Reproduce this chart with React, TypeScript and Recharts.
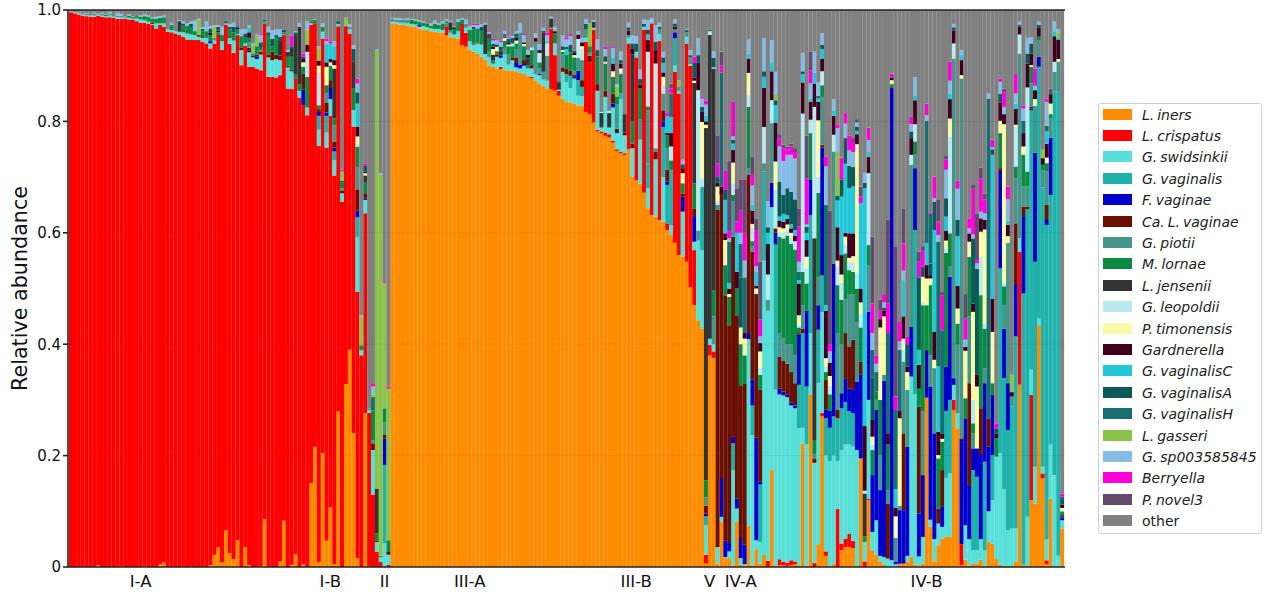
import React from 'react';
import { BarChart, Bar, XAxis, YAxis, ReferenceLine } from 'recharts';

// Each row lists, per sample, the cumulative top (percent) of every taxon present, bottom to top.
// a iners, b crispatus, c swidsinkii, d vaginalis, e F.vaginae, f Ca.L.vaginae, g piotii, h lornae,
// i jensenii, j leopoldii, k timonensis, l Gardnerella, m vaginalisC, n vaginalisA, o vaginalisH,
// p gasseri, q sp003585845, r Berryella, s novel3; the remainder is "other".
type Row = Record<string, number>;

const keys = ['a','b','c','d','e','f','g','h','i','j','k','l','m','n','o','p','q','r','s','other'];
const names = ['L. iners','L. crispatus','G. swidsinkii','G. vaginalis','F. vaginae','Ca. L. vaginae','G. piotii','M. lornae','L. jensenii','G. leopoldii','P. timonensis','Gardnerella','G. vaginalisC','G. vaginalisA','G. vaginalisH','L. gasseri','G. sp003585845','Berryella','P. novel3','other'];
const colors = ['#ff8c00','#ff0000','#58e0d8','#20b2aa','#0000cd','#6b1000','#45958a','#0a8a42','#333333','#b8eaf0','#f8fba8','#3f0020','#22c8d8','#0a5a5a','#176d70','#8bc34a','#85bce5','#ff00dd','#634a6e','#808080'];
const groupLabels = ['I-A','I-B','II','III-A','III-B','V','IV-A','IV-B'];
const groupTicks = [18,67,81,103,146,165,173,221];
const yTicks = [0,0.2,0.4,0.6,0.8,1];

const barsIA: Row[] = [
{b:99.6,c:99.7},{b:99.4,c:99.6},{b:99.2,c:99.4,g:99.5},{b:99,c:99.2,g:99.5},{b:98.9,c:99.1,g:99.3,q:99.4},{b:98.8,c:99,g:99.3},{b:98.8,c:99,g:99.4,q:99.5},{a:.3,b:99,c:99.2,g:99.4},{b:98.8,c:99,g:99.3,q:99.5},{b:98.7,c:98.9,h:99.2,q:99.3},
{b:98.7,c:99,g:99.3,q:99.6},{b:98.6,c:98.8,g:99.1},{b:98.4,c:98.7,g:99,q:99.5},{a:.1,b:98.4,c:98.7,g:99,q:99.3},{b:98.4,c:98.6,g:98.8},{b:98.3,c:98.6,h:99,q:99.2},{b:98.2,c:98.4,g:98.8},{b:98,c:98.5,h:98.9},{b:97.7,c:98.3,h:98.8,q:99},{a:.1,b:97.7,c:98.2,h:98.9,q:99.2},
{b:97.5,c:97.9,h:98.8,q:99},{b:97.3,c:97.5,f:97.7,h:98.5,q:98.7},{b:96.7,c:97.6,h:98.4,q:98.8},{a:.5,b:97.3,c:97.6,h:98.6,q:98.9},{a:.8,b:97,c:97.6,h:98.7,q:99},{b:96.1,c:96.5},{b:96,c:96.4,h:97.3,q:97.7},{b:95.8,c:96.2,g:96.4},{b:95.5,c:96.1,i:98,q:98.2},{a:.1,b:95.2,c:96,h:97,n:97.6,q:98},
{b:94.7,c:95.8,f:96,h:97.2,q:97.6},{a:.1,b:94.7,c:95.6,h:96.8,n:97.5,q:98},{b:94.6,c:95.5,h:96.2,q:98.1},{b:94.6,c:95.2,f:95.5,p:98.3,q:98.4},{b:94.3,c:95,f:95.3,h:96.2,n:96.6,q:96.9},{b:94,c:95,h:96.2,q:98},{a:.3,b:93.1,c:94,e:94.4,h:95.5,l:95.9,n:96.7,q:97.1},{a:2.2,b:94,c:94.5,g:95,p:97,q:97.3},{a:3.5,b:95.5,h:96,l:96.3,n:97,q:97.3},{a:.8,b:92.8,c:94.4,h:95.5,q:97},
{a:6.6,b:97.4,c:97.6,n:98},{a:2.5,b:93.9,c:95,f:95.3,h:96.5,n:97,q:97.5},{a:1.4,b:92.3,c:94.5,h:96,n:97,q:97.7},{a:4.8,b:95.5,c:95.7,h:96.5,l:96.8,n:97.1},{b:90.1,c:92.8,f:93.2,h:95.3,q:96.5},{a:3.6,b:93.6,c:94,h:95,n:95.8,q:96.5},{a:.3,b:89.8,c:92.4,e:92.7,f:93.2,g:94.2,h:95,l:96,m:96.9,q:97.2},{b:89.8,c:91.5,f:91.8,h:92.2,p:93.7,q:94},{b:89.5,c:91.2,e:91.7,f:92,h:93.5,p:95.5,q:95.7},{a:.2,b:89.2,c:92,f:92.5,g:92.8,h:93.2,n:94.2,q:95.5,r:95.8},
{a:8.6,b:97.5,g:98,n:98.3},{b:88,c:91.5,f:92,h:95.5,n:96,q:97},{b:88,c:91,f:92.5,h:93.5,n:94.8,q:96.4},{b:87.9,c:91.2,f:92,h:95,n:95.5,q:96.5},{a:1,b:88.3,c:91,f:91.8,i:94.6,n:95.2,q:96.5},{a:8.3,b:95.5,c:95.6,h:96,n:96.5},{b:85.9,c:89.7,f:90,h:91.6,i:92.5,q:92.8},{a:.4,b:85.8,c:89,f:89.3,h:91.6,i:93,n:93.5,r:95.4},{a:2.3,b:87.7,f:87.9,h:88.5,i:95.5,n:96,q:96.2},{b:84.3,c:85.5,h:86.7,i:97,q:97.6},
];
const barsIB: Row[] = [
{a:.5,b:82.9,e:85.7,f:88.6,h:89.8,k:90.6,l:91.2,n:91.6,r:92.2},{b:81.1,c:82.5,h:88,j:92.5,l:93.8,p:96.5,q:98},{a:15.1,b:97.3,c:97.6,h:98},{a:21.6,b:97.6,h:98.2,q:98.3},{a:.9,b:75.6,c:78.5,d:81,e:81.7,f:82.2,h:82.9,j:88.8,k:90,l:90.9,p:93,q:93.5},{a:20.4,b:94.9,c:96.1,h:97,q:97.6},{a:4.7,b:75.3,c:78,d:81,e:81.6,f:83.3,g:85,h:86.5,k:89.8,l:90.6,m:94,q:94.4,r:94.9},{a:10.7,b:81,c:84,e:86,f:87.4,h:90,k:90.6,l:91.2,m:94,r:94.4},{a:.5,b:70.3,c:73,d:74.6,e:75.3,f:76.4,g:79.3,h:80.5,i:89.5,k:90.1,l:91,m:93.5,q:94.4},{a:27.9,b:97.1,c:97.5,n:98},
{b:65.6,c:67.1,f:67.5,g:68,h:69,n:69.3,p:71,r:71.3},{a:32.8,b:97.1,p:98.6},{a:39,b:95.8,c:96.5,g:97,q:97.5},{a:24,b:79.1,c:82,h:86,i:90.8,n:93,q:93.7},{a:1.6,b:49.4,c:59.2,d:62.8,e:64,f:67.8,g:71.8,h:75.4,j:76,k:77.3,l:79,m:83.2,n:85.2,q:86.8,r:87.7},{b:38,c:38.9,h:39.8,p:44.9,q:45.2},{a:27.6,b:63.5,c:65.9,e:66.2,f:67.1,h:69,i:70.3,k:70.7,l:71,n:72,r:72.5},
];
const barsII: Row[] = [
{a:.2,b:27.7,c:28.1,g:28.4},{b:13,c:21,f:22.2,g:22.8,h:28.1,o:30.5,p:31,q:32.4,r:33},{b:2.7,c:4.5,f:4.8,h:6,i:14.1,p:92.8,q:93},{b:.9,c:1.8,h:2,p:70.4,q:70.7},{b:.1,c:4.2,d:18.3,e:23.1,f:23.7,g:26,h:28.2,o:28.5,p:51,r:51.3},{b:.4,c:2.2,f:2.7,h:4.8,p:32,r:32.4},
];
const barsIIIA: Row[] = [
{a:97.6,c:97.9,g:98.4,q:98.5},{a:97.5,c:97.8,g:98.3,q:98.5},{a:97.4,c:97.7,g:98.3,q:98.5},{a:97.3,c:97.7,g:98.3,q:98.4},{a:97.2,c:97.6,g:98.3,q:98.5},{a:97.1,c:97.5,h:98.2,q:98.4},{a:97,c:97.4,h:98.1,q:98.3},{a:96.7,c:97,e:97.3,h:97.9,q:98.1},{a:96.5,c:97.1,h:97.7,q:97.9},{a:96.4,c:96.9,h:97.5},
{a:96.2,c:96.7,h:97.2,q:97.6},{a:96.1,c:96.6,h:97.5,q:98.1},{a:96,c:96.6,h:97.3,q:97.6},{a:95.9,c:96.4,h:97.6,q:98},{a:95.5,b:97.1,g:97.6,h:98,q:98.3},{a:95.2,c:95.9,g:96.4,i:97.8,q:98},{a:95,c:95.6,h:96.6,l:96.8,n:97},{a:94.9,c:96.2,h:97.9,q:98.3},{a:93.7,b:97.5,h:98.2,q:98.5},{a:93.4,b:95.9,c:96.8,g:97.5,q:98.3},
{a:92.9,c:94.4,h:96.5,q:97.1},{a:92.5,c:93.8,f:94,h:96.5,n:97,q:97.3,r:97.5},{a:92.1,c:94,f:94.2,h:96.7,q:97.3,r:97.5},{a:91.6,c:93.8,h:96.2,n:97,q:97.4},{a:91.1,c:92.1,i:97.4,q:97.7},{a:90.1,c:91.5,g:92.5,h:95,l:95.3,n:95.7,q:96,r:96.2},{a:89.8,c:90.4,f:90.6,h:91,i:92,k:93,l:93.4,n:93.9,q:94.5,r:94.8},{a:89.5,c:91.6,f:92,h:92.6,k:93.4,l:93.7,m:94.1,q:94.5},{a:89.4,b:89.8,c:91.4,e:91.8,i:92.7,n:93.4,q:94.2,r:94.5},{a:89.2,c:92,g:93.2,h:94.5,k:95,l:95.2,o:95.7,q:96.2,r:96.3},
{a:89.2,c:90.2,g:92,h:93.5,k:93.8,l:94.2,n:94.8,q:95,r:95.2},{a:89.1,c:91,f:91.5,h:93.5,j:94,n:95,q:95.3},{a:89,c:89.7,e:90.5,f:91.5,g:93,h:94,k:94.5,l:95,n:95.8,q:96.2},{a:88.7,c:89.5,e:90.2,g:96,q:97.6},{a:88.5,c:90,e:90.3,f:91,h:93.5,k:93.9,l:94.2,q:95.5,r:95.7},{a:88.2,c:89.5,h:90,i:91.3,l:92,q:92.8},{a:87.7,b:88,c:89.5,f:90.1,h:92.8,j:93.1,q:93.3},{a:87.4,c:88.5,g:94.3,l:95,q:95.8},{a:86.7,c:88.3,e:88.6,g:89.5,h:90.6,j:92.3,l:92.8,q:93.9},{a:86.4,c:87.5,g:88.9,i:95.9,n:96.3,q:96.8},
{a:85.8,c:87.3,g:91.8,j:94,m:94.4,q:95.5,r:96},{a:85.8,b:96.7,c:96.8,i:98.5,q:98.8},{a:85.5,b:91.9,c:94,h:95.8,l:96.2,q:97},{a:84.6,b:85.5,c:85.7,i:87,l:87.2},{a:84.1,c:88.9,f:89.7,g:92,h:92.5,k:92.8,n:93.5,q:95.5},{a:83.5,c:87,d:88.5,f:89.5,h:92,m:93,n:93.4,q:94.7,r:95},{a:83.4,c:86,d:88.2,f:89.1,h:92.4,n:93.8,q:95.3,r:95.7},
];
const barsIIIB: Row[] = [
{a:83.2,c:87.7,e:88,f:88.4,g:89,h:91.5,k:91.9,l:92.3,n:92.7},{a:82.9,c:84.6,d:87.4,e:89.1,g:91.4,j:94.8,l:95.6,q:96.2},{a:82.8,c:84.5,d:86.2,f:87.4,g:91,j:93,k:93.5,l:94.2,q:95},{a:81.7,b:94.3,c:95,g:96.5,n:97.5,q:98.4},{a:81.3,b:90.6,f:91.8,g:92.3,h:93.5,p:97.6},{a:79.8,b:96.4,c:96.8,i:97.9,q:98.2},{a:78.2,b:78.5,c:85.5,f:86.7,h:91.7,n:92.8,q:94.7},{a:77.9,b:78.2,c:78.8,g:79,i:81.5,j:81.7},{a:77.4,b:78,c:84.4,f:85.5,h:90.4,k:90.7,n:91.7,q:93,r:93.4},{a:77.1,b:77.7,c:78.8,g:79,i:81.5,j:81.9},
{a:76.2,b:76.5,c:82.5,e:83.2,f:85,h:88,k:89,l:90.4,m:91.5,q:93.2,r:93.5},{a:74.7,b:75,c:77.9,e:78.1,f:78.7,g:83,h:84.5,p:86.3,q:86.7},{a:74.3,b:74.6,c:84,d:85,h:88.5,j:89,k:89.5,l:90.4,n:91,q:92.5},{a:74,b:74.3,c:77.5,f:78,i:81.3},{a:75,b:94,c:95,g:95.5,l:96.3,n:96.9,q:97.7},{a:70.1,c:75.2,f:76,h:80,i:92,l:93,n:94,q:95.4},{a:69.4,b:91.5,c:92.5,n:94,q:95.3},{a:68.8,c:76.7,g:80.3,h:85.9,l:86.6,n:87.6,q:89.3},{a:67.2,b:96.5,c:97,n:97.5,q:98.3},{a:64.4,c:68,d:72.5,g:82,h:82.7,j:92.5,l:94.6,m:95.6,n:96.5,q:98.2},
{a:63.2,b:97.6,c:97.9,q:98.5},{a:62.9,c:73.2,f:74.5,g:75.2,j:90.4,l:92.8,n:94.3,q:97.3},{a:62.3,b:94.5,c:95.7,g:96.5,n:97,q:97.7},{a:62,c:70,d:79,e:80,f:82,g:85,j:86.5,k:88,l:88.8,m:90.5,n:91.5,q:92.5},{a:60.5,b:61.7,d:68.6,e:69.2,f:71.3,g:75.2,h:77.5,l:77.9,m:80.9,r:81.5},{a:59.6,c:61.4,d:71.3,h:73,j:75.5,l:77.9,m:80.8,o:85,r:85.9,s:86.8},{a:58.2,b:88.9,c:90,d:94.9,e:96,g:96.5,l:97,n:97.6,q:98.3},{a:56,b:85,c:85.5,g:86.3,p:87.4},{a:55.7,c:63.8,e:66.5,f:67,h:68.9,k:70.7,l:71.6,n:72.3,q:73,r:73.1},{a:54.8,b:94,c:95.2,g:96,n:96.4,q:96.6},
{a:50.2,b:90,c:90.3,g:91.5,n:91.9,q:92.8},{a:47,b:56.9,c:58.4,e:63,f:64.3,h:68.9,i:86.9,k:87.3,l:87.9,n:90.5,r:91.6},{a:44.3,c:58.6,g:60.4,j:85.6,l:90.6,n:91.9,q:94.9},{a:42.8,c:56.9,d:68.3,j:69.8,k:79.9,l:81.7,n:82.6,q:84.1,r:84.4},
];
const barsV: Row[] = [
{a:.6,b:2.2,c:7.5,d:9.1,e:9.6,f:11,g:12.5,h:15.6,i:78.8,k:79.4,l:80,m:81,q:83,r:83.7},{a:38,b:39.9,c:41,i:95.5,j:96.2,n:96.5},{a:37.5,b:38.7,c:40,g:45,h:49.7,i:89.5,j:89.7,n:91.4,q:92.6},
];
const barsIVA: Row[] = [
{a:.6,c:3.6,f:64.1,g:65,j:65.7,k:68.3,l:69,n:70,r:72.5,s:77.5},{a:8.1,c:9,e:16,f:66.8,l:68.3,o:88.8,r:90,s:92.5},{a:1.6,c:1.8,e:4.8,f:48.8,h:54.2,k:58.7,l:59.9,m:65.9,n:67.7,r:71.1},{a:1.6,c:2.8,e:4.3,f:43.4,h:48.5,k:49,l:50,m:51,o:58.4,q:59,r:60.5,s:73},{a:.3,c:17.4,d:22.2,e:23.4,f:59.3,g:65.6,h:66.8,j:68.9,k:72.6,l:74.9,m:76,n:76.7,q:77.3,r:83.5},{a:8.1,c:10.5,e:12.3,f:45.2,h:50,l:53,o:58,m:60,r:62,s:68},{a:.4,c:1.6,e:5.2,f:32.5,h:40,k:43,n:52,o:58,q:60,r:64,s:69.5},{a:.3,c:.5,e:4,f:33,h:38,k:41,l:42,o:52,q:55,r:60,s:69.5},{a:7.4,c:40.9,e:42,f:70.4,g:71.6,h:82.6,j:84.7,k:88.7,l:91.3,m:92.2,q:94.7},{a:.3,c:23.7,d:29,e:33.7,f:56.6,g:57.5,h:58.5,j:60.9,k:61.6,l:64,m:65,q:68.5,r:70.4,s:73.6},
{a:3.2,c:4.8,e:23.2,f:49,k:50,l:50.5,n:51,m:53,q:54,r:60.5,s:62.6},{a:.6,c:4.5,d:14.8,e:15.3,f:31.8,h:34.5,j:35.7,k:38.7,l:40.2,q:41.4,r:44.4,s:54.8},{a:2.3,c:55,d:71,g:72.5,j:79,l:86,m:88,n:89,q:94.9},{b:1.1,c:46,g:48,j:52.5,l:58,m:60,n:61,q:65.6},{a:17.5,c:64.6,e:69,g:79.7,j:83.8,l:89,m:90.5,q:94.6},{a:.3,c:31.8,d:57.9,e:60,f:60.8,j:67.7,k:72.8,l:79.8,m:82.9,n:83.8,p:84.9,q:88.9},{a:.3,b:1.4,c:31,e:32,f:37.8,g:42,h:59.3,j:60,k:61,l:62.2,m:62.9,n:69.2,q:75.5,r:77,s:77.7},{a:.3,b:.9,c:30.8,e:31.5,f:37,g:41,h:59,j:60,k:60.8,l:62,m:63.4,n:66.8,q:72.9,r:75.2,s:75.8},{a:.2,b:.8,c:30.5,e:30.9,f:36.5,g:40,h:59.5,j:60.5,k:61.5,l:62.5,m:63.2,n:68,q:74,r:75,s:75.5},{a:.3,b:1.2,c:29,e:29.5,f:35,g:40,h:58,j:59,k:60,l:60.8,m:61.5,n:67.4,q:74,r:75.5,s:76},
{a:.5,b:1,c:28.5,e:29,f:33,g:38,h:57,j:58.5,l:59.5,m:60.5,n:66,q:73.3,r:74.5,s:75.2},{a:.3,c:24.9,d:32.7,e:41.7,f:42,h:43,j:43.4,k:45.2,l:50.9,m:51.5,o:53,q:54.8,r:61.1,s:64.4},{a:22.2,c:25,d:42,f:42.8,g:47,h:53,j:81.4,l:87,m:88.5,n:89,q:92.3},
];
const barsIVB: Row[] = [
{a:.2,c:22,d:32.4,e:46,h:50.9,j:53.6,k:55.7,l:58.7,m:60,n:61.1,q:61.5,r:69.8,s:77.4},{a:31,c:42,d:63.2,e:69.5,h:77.9,j:80.3,l:83.5,m:84.1,q:86.8,r:89.1,s:92.5},{b:.7,c:18.7,f:19.5,g:20.3,h:22.8,i:59,j:82.6,l:86.8,m:88.7,q:92.5},{a:4.1,c:33,d:42.6,e:47,g:52,h:67.2,j:70,k:80.2,l:83.5,m:84.1,o:84.6,q:87},{a:27.1,b:27.7,c:45.7,d:52.4,e:75.3,f:75.8,g:84.4,h:86.5,j:89,l:91.2,m:93,n:93.8,q:95.8},{a:2,b:2.8,c:20,d:26.7,e:28.3,f:33.7,h:35,j:36,k:37.5,l:46,m:47,o:65,q:71.9,r:73.7},{a:.1,c:19,d:25,e:28,h:31,j:32.5,k:34.3,l:36.7,q:38.7,r:40,s:64},{a:.6,c:20,d:27,e:54.5,g:74.6,j:77.6,l:81,m:82,q:84},{b:10.4,c:19,d:26.7,f:28.2,g:42,h:50.6,j:54,k:55,l:61,m:65.8,n:66.6,p:74.5,q:78.8,r:79.5},{a:3,b:4.2,c:21,d:28.5,e:31.2,g:40,h:48,j:51,k:52.5,l:56,m:66.5,n:69.6,r:73.5},
{a:3.6,b:5.1,c:22,d:29.6,e:33.9,f:42,g:48,h:56.3,j:57.8,k:59.3,l:60,m:72.4,n:77,q:79.6,r:81.5},{a:3.6,b:6,c:22,d:28,e:32,f:39.6,g:49,h:53.3,j:54.8,k:55.5,l:59.9,m:68,n:72,q:74.8,r:77.5},{a:3.4,b:4.7,c:21.6,d:27.6,e:31.8,f:40.8,g:49,h:53,j:54.8,k:55.8,l:59.9,m:68.3,n:71.8,q:74.5,r:76.3,s:77},{c:21,e:33.3,g:44,h:50,j:52.7,k:75.9,l:77.7,m:78.3,n:79,q:79.8,s:80.4},{a:19.5,e:34.5,f:36.9,h:43,j:45.5,k:47.5,l:50,m:65.3,r:66.5,s:68.3},{b:1,c:4.5,h:5.5,i:13.2,j:13.7,l:25.3,m:68,n:69,q:70.8},{a:12,b:12.2,c:30,e:45.8,g:54.2,h:57.8,j:70.7,l:73.6,m:74.5,q:76.6,r:78.9},{a:3,c:6.3,e:16.5,h:21,j:22,k:23.4,l:26.4,n:34,o:39,q:42,r:47.3,s:59.3},{a:2.2,c:8.4,e:28.2,g:30,h:31.5,o:35,q:36.5,r:38},{a:1,c:2,e:13.8,g:20,h:30,k:43,l:44.5,r:46,s:48},
{a:.4,c:1.8,e:33.5,g:34.5,k:45,l:46,n:46.5,q:47.5,r:49},{c:1.5,f:11.4,g:13.8,h:22,l:24,o:42,r:47.3,s:62.4},{c:1.2,e:86,h:86.7,k:87.4,l:87.9,r:88.6},{c:.5,e:1,g:5.2,k:9.1,l:10.6,m:14,o:28.2,r:30.6,s:57.6},{a:.6,e:10.2,g:11,k:26.7,l:28,o:39,q:40.5,r:44},{a:.6,e:10.2,f:24,g:36.9,j:39,k:41,l:45,m:51.5,q:53.2,r:58.1,s:64.4},{a:1,c:2,e:21.6,g:31.8,k:35,l:36,n:40,r:41.3},{a:1.9,c:34.2,e:43.1,g:72.2,j:74,l:77,n:78.2,q:79.5,r:80.8},{a:.4,c:31,d:60.5,e:71.6,g:74,h:76.4,j:79.5,l:83.8,m:84.7,q:87.9},{a:.3,c:1.9,e:9.6,f:28.8,h:32,l:36.3,m:39,n:52,r:54.8,s:56.6},
{a:.6,c:5.4,e:16.5,g:28,h:47,j:47.5,k:52.1,n:53.9,r:56.9,s:57.6},{a:30.4,e:39,h:47,k:51.8,l:54.2,m:58.1,o:80.1,q:81.1,r:83.2},{a:7.2,c:8.5,e:32.4,g:38,h:50.6,k:51.8,l:52.4,n:54.5,o:63.4,r:63.7},{a:1,c:5,e:24,g:35.7,k:37.2,l:42.2,m:60.5,n:65.6,q:66.2,r:70.1},{a:3.9,c:7.8,f:10.5,h:19.5,k:20.1,l:24.3,m:36,o:58.4,q:59.6,r:62,s:65.9},{a:5.1,c:7.2,e:10.8,f:17.4,h:22.5,k:23,l:24,o:42.5,r:48.8,s:49.5},{a:5.4,c:16,d:28,e:36,h:56.4,j:57.2,k:58.6,l:60.4,m:62.9,n:66.2,q:71.3,r:73.2,s:73.8},{a:5.4,c:16.8,d:30,e:52.1,g:53.9,h:59.9,j:77.3,k:80.5,l:84,m:85,q:87.3,r:90.7},{a:28.2,b:30,c:32.7,e:33.9,g:91.3,j:94,l:96.3,n:96.9,q:97.5},{a:24.9,c:27.6,g:39.9,h:43.7,k:46.4,l:50.5,m:59.4,n:62.3,q:67.9,r:69.4},
{a:.3,b:4.1,e:22.8,f:23.1,g:87.7,k:88.3,l:91,m:91.9,q:92.8},{a:1.3,c:7.5,e:26.7,h:30.3,k:38.8,l:39.5,q:40.8,r:44.6,s:49},{a:.3,c:5,e:14.7,f:33,g:45,h:55.7,k:58.4,l:59.9,q:60.8,r:62.6},{a:.6,c:3,d:17.4,e:21.3,g:24,h:25.8,j:30,k:45.8,l:47.3,n:59,q:59.7,r:68,s:68.6},{a:.6,c:3,d:16.2,e:21.3,k:32.4,l:34.5,n:53.5,q:54.5,r:55.1,s:63.5},{a:1.3,c:5,e:20.1,f:28.5,h:48.8,j:55.7,k:60.2,l:62.6,q:63.8,r:69.8,s:71.7},{a:.3,c:3,d:18.9,e:33,g:35.7,h:42.8,j:43.7,k:60.6,l:62.3,q:63.5,r:66,s:67},{a:4.6,c:10,e:21.6,f:26.7,o:84.1,q:85},{a:4.2,c:12,d:20.1,e:30.9,h:33,k:42.2,l:48.2,m:74,n:75,q:75.4,r:76.7},{a:1.5,c:19.8,h:23.1,l:24,n:24.8,r:25.8},
{a:.4,c:20.4,d:53.6,e:71.1,f:71.6,h:77.9,k:80.1,l:83.4,n:85,q:87.1,r:87.7},{a:.2,c:14,d:33.9,e:42.8,g:47,h:50.4,j:50.9,k:79.5,l:81.3,q:82.6,r:85.3,s:85.9},{a:.2,c:6.6,d:24.6,e:33,g:58.2,k:59.4,l:61.4,m:62.2,q:66,r:68.3},{a:.2,c:6.9,d:28.8,g:30.6,l:31.4,p:34.5},{a:1,c:6.9,d:41.4,e:50.8,f:61.7,g:69.8,h:71.9,j:79,k:79.4,l:82.3,m:83.2,q:85,r:88.5},{a:32.7,b:56.6,c:59,g:92.2,j:95.6,l:97,n:97.4,q:97.9},{a:.4,d:49.1,e:63,f:64.7,g:68.3,h:74,k:75.5,l:77.9,o:80.1,q:82.3,r:82.9},{c:9,d:64.2,f:64.7,g:68.3,h:71,j:86.1,l:90.4,n:92.2,q:95},{a:12,b:30.9,c:35.4,d:82,e:82.3,f:82.6,g:86.8,h:89.8,k:90.1,l:92.2,n:94,q:95.1},{a:11.4,c:18,d:54.8,e:74.4,g:82.8,k:84,l:85.6,q:86.4,r:89.5},
{a:43.4,c:44.6,d:89.8,e:91.6,g:94.6,h:95.2,l:96.9,n:97.3,q:97.9},{a:15.9,b:16.8,c:18,d:68.2,g:71.2,h:72.2,l:73.4,p:74.9},{a:.5,b:1.2,c:5,d:61.4,e:62.3,f:65,g:71,h:72.5,k:73.5,l:76,m:78.2,o:79.2,q:83.5,r:84.1},{a:12.3,c:22,d:66.8,e:77.1,g:80.5,h:81.3,k:83.2,l:84.9,s:85.9},{c:16.5,d:85.4,g:88.9,j:90.7,l:95.3,m:96.2,q:97.9},{c:2,d:85.3,g:90.7,j:90.9,k:91.2,l:94.7,m:95,p:96,q:96.5},{a:6.9,c:8.4,e:8.9,f:9.3,h:10,k:10.6,l:11.2,n:12.2,o:12.6,r:13.2},
];

const allRows: Row[] = [...barsIA, ...barsIB, ...barsII, ...barsIIIA, ...barsIIIB, ...barsV, ...barsIVA, ...barsIVB];

const data = allRows.map((row, idx) => {
  let prev = 0;
  const out: Record<string, number> = { idx };
  for (const k of keys) {
    if (k === 'other') continue;
    if (row[k] !== undefined) {
      out[k] = Math.max(0, row[k] - prev) / 100;
      prev = Math.max(prev, row[k]);
    } else out[k] = 0;
  }
  out.other = Math.max(0, 100 - prev) / 100;
  return out;
});

const font = '"DejaVu Sans", sans-serif';
const axisStroke = '#222';

const Legend = () => (
  <div style={{ position: 'absolute', left: 1098, top: 103, width: 164, height: 431, boxSizing: 'border-box', background: '#fff', border: '1px solid #d0d0d0', borderRadius: 3, fontFamily: font, fontSize: 14, wordSpacing: '-1.5px', color: '#222' }}>
    {names.map((n, i) => (
      <div key={n} style={{ position: 'absolute', left: 0, top: 10.5 + i * 21.4 - 9, height: 18, width: '100%' }}>
        <span style={{ position: 'absolute', left: 4, top: 3, width: 29, height: 11, background: colors[i] }} />
        <span style={{ position: 'absolute', left: 43, top: 0, lineHeight: '18px', whiteSpace: 'nowrap', fontStyle: n === 'other' ? 'normal' : 'italic' }}>{n}</span>
      </div>
    ))}
  </div>
);

export default function App() {
  return (
    <div style={{ position: 'absolute', left: 0, top: 0, width: 1273, height: 598, background: '#fff' }}>
      <BarChart width={1273} height={598} data={data} margin={{ top: 10, right: 208, bottom: 0, left: 0 }} barCategoryGap={0} barGap={0}>
        <XAxis dataKey="idx" type="category" ticks={groupTicks} interval={0} padding={{ left: 1, right: 1 }}
          tickFormatter={(v: number) => groupLabels[groupTicks.indexOf(v)] ?? ''} tickLine={false}
          axisLine={{ stroke: axisStroke, strokeWidth: 1.6 }} height={31} tickMargin={2}
          tick={{ fontFamily: font, fontSize: 16.5, fill: '#111' }} />
        <YAxis width={68} domain={[0, 1]} ticks={yTicks} allowDataOverflow interval={0} tickSize={5}
          tickFormatter={(v: number) => (v === 0 ? '0' : v.toFixed(1))} axisLine={{ stroke: axisStroke, strokeWidth: 1.6 }}
          tickLine={{ stroke: axisStroke, strokeWidth: 1.6 }} tick={{ fontFamily: font, fontSize: 15, fill: '#111' }}
          label={{ value: 'Relative abundance', angle: -90, position: 'insideLeft', offset: 0, dx: 20, dy: 0, style: { fontFamily: font, fontSize: 20.7, fill: '#111', textAnchor: 'middle' } }} />
        <YAxis yAxisId="right" orientation="right" width={0} domain={[0, 1]} tick={false} tickLine={false} axisLine={{ stroke: axisStroke, strokeWidth: 1.6 }} />
        {keys.map((k, i) => (
          <Bar key={k} dataKey={k} stackId="s" fill={colors[i]} isAnimationActive={false} name={names[i]} />
        ))}
        {[0.2, 0.4, 0.6, 0.8].map((y) => (
          <ReferenceLine key={y} y={y} stroke="#000" strokeOpacity={0.06} />
        ))}
        <ReferenceLine y={1} stroke={axisStroke} strokeWidth={1.6} />
      </BarChart>
      <Legend />
    </div>
  );
}
